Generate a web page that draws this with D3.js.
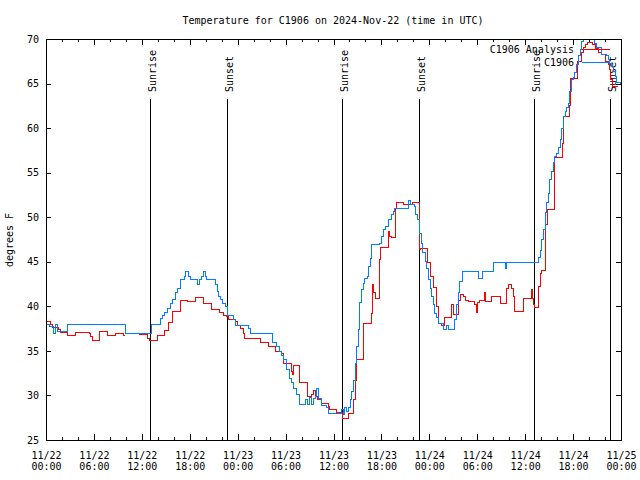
<!DOCTYPE html>
<html>
<head>
<meta charset="utf-8">
<script src="https://cdn.jsdelivr.net/npm/d3@7"></script>
<style>
  body { margin: 0; background: #fff; }
  text { font-family: "DejaVu Sans Mono", "Liberation Mono", monospace; font-size: 10px; fill: #000; }
</style>
</head>
<body>
<svg id="chart" width="640" height="480"></svg>
<script>
// hours since 2024-11-22 00:00 UTC, degrees F
const startTime = Date.UTC(2024, 10, 22);

const analysis = [
  [0,38.3],[0.6,38.0],[0.8,37.6],[1.6,37.4],[1.85,37.1],[2.75,36.7],[3.7,37.1],[5.4,37.0],[5.6,36.6],[5.8,36.2],
  [6.75,37.2],[7.7,36.7],[8.7,36.9],[9.7,36.7],[9.9,36.7],[9.95,null],[11.65,36.8],[12.7,36.4],[13.0,36.2],[13.9,36.7],
  [14.8,37.3],[15.4,38.2],[15.8,39.4],[16.8,40.6],[17.7,40.5],[18.75,41.0],[19.7,40.3],[20.7,39.7],[21.75,39.3],[22.2,39.0],
  [22.6,38.9],[22.9,38.5],[23.75,38.3],[23.95,37.9],[24.4,37.5],[24.7,36.9],[24.9,36.4],[26.8,35.9],[27.85,35.5],[28.7,34.9],
  [29.5,34.7],[29.8,33.6],[30.8,32.7],[30.9,32.3],[31.05,33.4],[31.7,31.4],[32.7,29.9],[33.3,30.1],[33.5,30.6],[33.7,29.9],
  [33.97,29.5],[34.5,29.1],[35.35,28.8],[35.55,28.4],[36.4,28.1],[37.1,27.4],[37.85,28.0],[38.55,29.5],[38.7,31.7],[38.9,34.0],
  [39.7,38.1],[40.7,39.2],[40.9,42.4],[41.0,41.5],[41.2,40.9],[41.8,45.2],[41.9,46.6],[42.9,48.4],[43.0,47.8],[43.2,47.7],
  [43.8,51.0],[43.9,51.6],[44.8,51.4],[45.9,51.6],[46.75,47.5],[46.8,46.4],[46.95,46.5],[47.8,44.9],[48.1,43.4],[48.5,42.1],
  [48.9,40.0],[49.1,38.1],[49.55,37.9],[49.95,38.7],[50.8,40.2],[51.0,39.1],[51.6,40.7],[51.85,41.3],[52.25,41.1],[52.5,40.7],
  [52.9,40.5],[53.7,40.2],[53.85,39.3],[54.0,40.4],[54.3,40.7],[54.85,41.6],[55.0,40.5],[55.8,41.1],[56.85,40.7],[56.97,40.3],
  [57.7,42.0],[57.9,42.4],[58.3,42.0],[58.5,41.1],[58.7,39.4],[59.8,40.7],[59.85,40.9],[60.8,41.9],[60.95,40.9],[61.0,40.2],
  [61.2,39.9],[61.65,42.2],[61.9,43.7],[62.1,44.0],[62.6,49.2],[62.8,50.9],[63.65,52.3],[63.7,56.7],[64.7,58.3],[64.85,61.3],
  [65.6,62.5],[65.7,65.6],[66.6,67.5],[67.1,68.5],[67.3,69.0],[67.6,69.4],[67.8,69.6],[68.45,69.4],[68.75,68.9],[69.15,68.5],
  [69.6,68.3],[70.0,67.5],[70.4,67.1],[70.6,66.6],[70.7,65.4],[70.95,64.7],[71.6,64.7]
];

const observed = [
  [0,38.0],[0.5,37.7],[0.9,37.0],[1.25,38.0],[1.5,37.2],[2.75,38.0],[9.9,37.0],[13.2,38.0],[14.3,38.6],[14.6,39.0],
  [14.9,39.3],[15.2,39.8],[15.6,40.3],[15.9,40.8],[16.2,41.5],[16.5,42.0],[16.8,42.6],[16.9,43.0],[17.3,43.4],[17.5,43.9],
  [17.9,43.4],[18.1,43.0],[19.0,42.4],[19.2,43.0],[19.5,43.4],[19.75,43.9],[19.95,43.4],[20.1,43.0],[21.25,42.4],[21.45,41.7],
  [21.65,41.1],[21.9,40.8],[22.1,40.3],[22.5,40.0],[22.7,39.0],[23.45,38.5],[23.7,37.9],[25.3,37.5],[25.6,36.9],[28.3,35.9],
  [28.9,35.5],[29.2,34.9],[29.5,34.5],[29.7,34.0],[30.1,32.9],[30.55,31.9],[30.8,31.5],[31.0,30.8],[31.4,30.1],[31.8,29.0],
  [32.55,29.5],[32.7,29.0],[33.05,29.8],[33.3,29.0],[33.5,29.7],[33.7,29.9],[33.9,30.8],[34.1,29.7],[34.5,28.9],[35.15,28.6],
  [35.35,28.0],[37.0,28.4],[37.2,27.9],[37.4,28.7],[37.65,28.2],[37.85,28.7],[38.1,29.5],[38.3,30.4],[38.5,31.7],[38.7,33.6],
  [38.9,35.5],[39.1,37.4],[39.3,40.4],[39.5,41.9],[39.7,42.6],[39.9,43.1],[40.2,43.4],[40.4,44.5],[40.6,45.4],[40.8,46.9],
  [41.8,47.1],[42.0,47.8],[42.2,48.6],[42.5,49.0],[42.9,49.7],[43.3,50.3],[43.5,50.6],[43.7,51.0],[45.4,51.9],[45.7,51.4],
  [46.1,51.2],[46.3,50.3],[46.5,49.7],[46.8,48.2],[47.0,47.1],[47.2,46.0],[47.5,45.0],[47.7,44.3],[47.9,43.0],[48.1,42.0],
  [48.3,41.1],[48.5,40.2],[48.7,39.2],[48.9,38.7],[49.1,38.1],[49.75,37.4],[50.2,37.9],[50.4,37.4],[51.2,38.5],[51.4,40.2],
  [51.6,41.5],[51.8,42.8],[52.2,43.9],[54.1,43.1],[54.7,43.9],[56.0,44.9],[57.5,44.3],[57.7,44.9],[61.7,45.5],[61.9,46.3],
  [62.1,47.5],[62.3,48.6],[62.5,50.5],[62.7,51.6],[62.9,52.7],[63.1,54.2],[63.3,55.1],[63.5,56.1],[63.7,56.8],[63.9,57.2],
  [64.15,57.8],[64.4,58.7],[64.6,60.0],[64.8,61.3],[65.0,61.9],[65.2,62.3],[65.4,62.8],[65.6,64.1],[65.8,65.4],[66.0,65.7],
  [66.2,66.2],[66.45,67.1],[66.65,68.1],[66.9,68.8],[67.1,69.7],[67.3,70.3],[67.5,70.8],[68.5,70.1],[68.7,69.5],[68.95,69.0],
  [69.6,68.3],[70.2,68.1],[70.4,67.7],[70.6,67.3],[70.85,66.9],[71.05,66.4],[71.25,65.8],[71.45,65.1],[71.9,65.0]
];

const eventNames = ["Sunrise", "Sunset", "Sunrise", "Sunset", "Sunrise", "Sunset"];
const eventHours = [13.05, 22.7, 37.1, 46.75, 61.05, 70.65];
const seriesNames = ["C1906 Analysis", "C1906"];
const seriesColors = ["#ff0000", "#0080ff"];
const yTicks = [25, 30, 35, 40, 45, 50, 55, 60, 65, 70];
const titleText = "Temperature for C1906 on 2024-Nov-22 (time in UTC)";
const yLabel = "degrees F";

const margin = {top: 39, right: 19, bottom: 40, left: 46};
const width = 640 - margin.left - margin.right;
const height = 480 - margin.top - margin.bottom;

const toDate = h => new Date(startTime + h * 3600e3);

const xScale = d3.scaleUtc()
    .domain([toDate(0), toDate(72)])
    .range([margin.left, margin.left + width]);

const yScale = d3.scaleLinear()
    .domain([25, 70])
    .range([margin.top + height, margin.top]);

const svg = d3.select("#chart");
svg.append("rect").attr("width", 640).attr("height", 480).attr("fill", "#fff");

svg.append("clipPath").attr("id", "plot")
  .append("rect")
    .attr("x", margin.left).attr("y", margin.top)
    .attr("width", width).attr("height", height);

const every2 = d3.utcHour.every(2);
const every6 = d3.utcHour.every(6);
const noDomain = g => g.select(".domain").remove();

// x ticks, bottom and top (pointing inward)
svg.append("g").attr("transform", `translate(0,${margin.top + height})`)
    .call(d3.axisBottom(xScale).ticks(every2).tickSize(-3).tickFormat("")).call(noDomain);
const xMajor = svg.append("g").attr("transform", `translate(0,${margin.top + height})`)
    .call(d3.axisBottom(xScale).ticks(every6).tickSize(-6).tickFormat("")).call(noDomain);
svg.append("g").attr("transform", `translate(0,${margin.top})`)
    .call(d3.axisTop(xScale).ticks(every2).tickSize(-3).tickFormat("")).call(noDomain);
svg.append("g").attr("transform", `translate(0,${margin.top})`)
    .call(d3.axisTop(xScale).ticks(every6).tickSize(-6).tickFormat("")).call(noDomain);

const fmtDay = d3.utcFormat("%m/%d");
const fmtTime = d3.utcFormat("%H:%M");
xMajor.selectAll(".tick").each(function(d) {
  const t = d3.select(this).append("text").attr("text-anchor", "middle").attr("fill", "#000");
  t.append("tspan").attr("x", 0).attr("y", 19).text(fmtDay(d));
  t.append("tspan").attr("x", 0).attr("y", 29.5).text(fmtTime(d));
});

// y ticks, left and right
svg.append("g").attr("transform", `translate(${margin.left},0)`)
    .call(d3.axisLeft(yScale).tickValues(yTicks).tickSize(-5).tickPadding(7)).call(noDomain);
svg.append("g").attr("transform", `translate(${margin.left + width},0)`)
    .call(d3.axisRight(yScale).tickValues(yTicks).tickSize(-5).tickFormat("")).call(noDomain);

svg.selectAll(".tick line").attr("stroke", "#000").attr("shape-rendering", "crispEdges");
svg.selectAll(".tick text").style("font-size", "10px").style("font-family", null);

// sunrise / sunset markers
const ev = svg.append("g");
eventHours.forEach((h, i) => {
  const ex = Math.round(xScale(toDate(h))) + 0.5;
  ev.append("line")
      .attr("x1", ex).attr("x2", ex)
      .attr("y1", 99).attr("y2", margin.top + height)
      .attr("stroke", "#000").attr("stroke-width", 1);
  ev.append("text")
      .attr("transform", `translate(${ex + 5},92) rotate(-90)`)
      .attr("text-anchor", "start")
      .text(eventNames[i]);
});

// data lines
const line = d3.line()
    .defined(d => d[1] != null)
    .x(d => xScale(toDate(d[0])))
    .y(d => yScale(d[1]))
    .curve(d3.curveStepAfter);

const plot = svg.append("g").attr("clip-path", "url(#plot)");
[analysis, observed].forEach((series, i) => {
  plot.append("path")
      .attr("d", line(series))
      .attr("fill", "none")
      .attr("stroke", seriesColors[i])
      .attr("stroke-width", 1)
      .attr("shape-rendering", "crispEdges");
});

// frame
svg.append("rect")
    .attr("x", margin.left + 0.5).attr("y", margin.top + 0.5)
    .attr("width", width).attr("height", height)
    .attr("fill", "none").attr("stroke", "#000")
    .attr("shape-rendering", "crispEdges");

// legend
seriesNames.forEach((name, i) => {
  const ly = 49 + i * 13;
  svg.append("text")
      .attr("x", 574).attr("y", ly + 3.5)
      .attr("text-anchor", "end")
      .text(name);
  svg.append("line")
      .attr("x1", 582).attr("x2", 610)
      .attr("y1", ly + 0.5).attr("y2", ly + 0.5)
      .attr("stroke", seriesColors[i]);
});

// title and y label
svg.append("text")
    .attr("x", 333).attr("y", 24)
    .attr("text-anchor", "middle")
    .text(titleText);

svg.append("text")
    .attr("transform", "translate(13,240) rotate(-90)")
    .attr("text-anchor", "middle")
    .text(yLabel);
</script>
</body>
</html>
